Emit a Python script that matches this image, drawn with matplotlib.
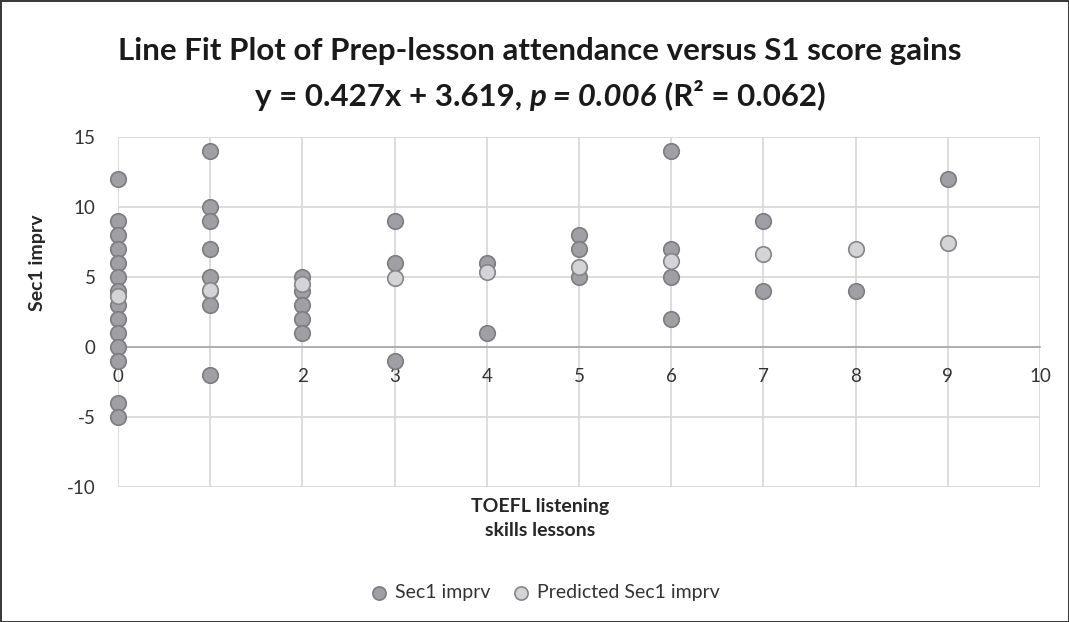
import numpy as np
import matplotlib
matplotlib.use('Agg')
import matplotlib.pyplot as plt
from matplotlib.offsetbox import TextArea, HPacker, AnchoredOffsetbox

plt.rcParams['font.family'] = ['Lato', 'DejaVu Sans']
plt.rcParams['axes.unicode_minus'] = False

# observed score gains, by number of lessons attended
lessons = [0]*14 + [1]*8 + [2]*5 + [3]*3 + [4]*2 + [5]*3 + [6]*4 + [7]*2 + [8] + [9]
sec1 = [12, 9, 8, 7, 6, 5, 4, 3, 2, 1, 0, -1, -4, -5,
        14, 10, 9, 7, 5, 4, 3, -2,
        5, 4, 3, 2, 1,
        9, 6, -1,
        6, 1,
        8, 7, 5,
        14, 7, 5, 2,
        9, 4,
        4,
        12]

# predicted values
pred_x = [0, 1, 2, 3, 4, 5, 6, 7, 8, 9]
pred_y = [3.62, 4.05, 4.47, 4.90, 5.33, 5.75, 6.18, 6.61, 7.03, 7.46]

xticks = [0, 1, 2, 3, 4, 5, 6, 7, 8, 9, 10]
yticks = [-10, -5, 0, 5, 10, 15]

fig = plt.figure(figsize=(10.69, 6.22), dpi=100, edgecolor='#3a3a3a', linewidth=2)
ax = fig.add_axes([0.1104, 0.217, 0.8625, 0.5627])

ax.scatter(lessons, sec1, s=125, color='#a0a0a4', edgecolor='#7d7d80', linewidth=1.2, zorder=3,
           label='Sec1 imprv', clip_on=False)
ax.scatter(pred_x, pred_y, s=125, color='#d4d4d6', edgecolor='#858588', linewidth=1.2, zorder=4,
           label='Predicted Sec1 imprv', clip_on=False)

ax.set_xlim(0, 10)
ax.set_ylim(-10, 15)
ax.set_xticks(xticks)
ax.set_yticks(yticks)
ax.grid(True, color='#d9d9d9', linewidth=1.3, zorder=0)
ax.set_axisbelow(True)
for s in ['top', 'right', 'left']:
    ax.spines[s].set_visible(False)
ax.spines['bottom'].set_position(('data', 0))
ax.spines['bottom'].set_color('#a6a6a6')
ax.spines['bottom'].set_linewidth(1.2)
ax.spines['bottom'].set_zorder(1)
ax.tick_params(axis='x', length=0, pad=15, labelsize=13.5, colors='#333333')
ax.tick_params(axis='y', length=0, pad=16, labelsize=13.5, colors='#333333')

ax.set_ylabel('Sec1 imprv', fontsize=14, fontweight='bold', color='#262626')
ax.yaxis.set_label_coords(-0.078, 0.64)
fig.text(0.505, 0.199, 'TOEFL listening\nskills lessons', ha='center', va='top',
         fontsize=14, fontweight='bold', color='#262626', linespacing=1.5)

fig.text(0.505, 0.918, 'Line Fit Plot of Prep-lesson attendance versus S1 score gains',
         ha='center', va='center', fontsize=22.5, fontweight='bold', color='#1a1a1a')
props = dict(fontsize=22.5, fontweight='bold', color='#1a1a1a')
parts = [TextArea('y = 0.427x + 3.619, ', textprops=props),
         TextArea('p = 0.006', textprops=dict(props, fontstyle='italic')),
         TextArea(' (R\u00b2 = 0.062)', textprops=props)]
box = HPacker(children=parts, align='baseline', pad=0, sep=0)
anch = AnchoredOffsetbox(loc='center', child=box, frameon=False,
                         bbox_to_anchor=(0.505, 0.847), bbox_transform=fig.transFigure, pad=0)
fig.add_artist(anch)

fig.legend(loc='center', bbox_to_anchor=(0.505, 0.047), ncol=2, frameon=False, fontsize=14,
           handletextpad=-0.2, columnspacing=0.6, markerscale=0.85, labelcolor='#333333')

fig.savefig('out.png', dpi=100)
